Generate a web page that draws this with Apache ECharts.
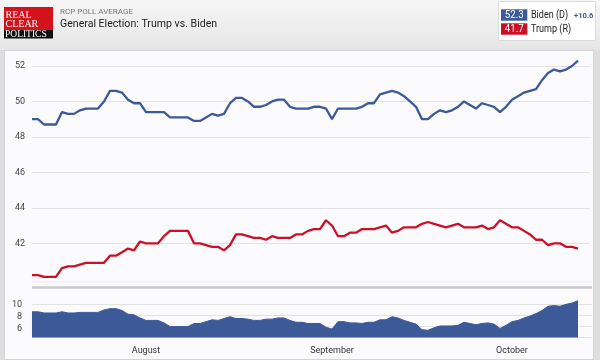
<!DOCTYPE html>
<html>
<head>
<meta charset="utf-8">
<script src="https://cdn.jsdelivr.net/npm/echarts@6/dist/echarts.min.js"></script>
<style>
  html, body { margin:0; padding:0; width:600px; height:360px; background:#dedede; overflow:hidden; }
  #hdr { position:absolute; left:0; top:0; width:600px; height:50px; background:linear-gradient(#f6f6f6,#e6e6e6); }
  #panel { position:absolute; left:4px; top:50px; width:590px; height:310px; background:#fbfbfd; border:1px solid #d4d4d4; box-sizing:border-box; }
  #chart { position:absolute; left:0; top:0; width:600px; height:360px; }
</style>
</head>
<body>
<div id="hdr"></div>
<div id="panel"></div>
<div id="chart"></div>
<script>
// ---- data (daily RCP averages, Jul 13 – Oct 12) ----
const startDay = '2020-07-13';
const dayCount = 94; // two trailing empty days to the right edge
const biden = [
  49.0, 49.0, 48.7, 48.7, 48.7, 49.4, 49.3, 49.3, 49.5, 49.6,
  49.6, 49.6, 50.0, 50.6, 50.6, 50.5, 50.1, 49.9, 49.9, 49.4,
  49.4, 49.4, 49.4, 49.1, 49.1, 49.1, 49.1, 48.9, 48.9, 49.1,
  49.3, 49.2, 49.3, 49.9, 50.2, 50.2, 50.0, 49.7, 49.7, 49.8,
  50.0, 50.1, 50.1, 49.7, 49.6, 49.6, 49.6, 49.7, 49.7, 49.6,
  49.0, 49.6, 49.6, 49.6, 49.6, 49.7, 49.9, 49.9, 50.4, 50.5,
  50.6, 50.5, 50.3, 50.0, 49.7, 49.0, 49.0, 49.3, 49.5, 49.4,
  49.5, 49.7, 50.0, 49.8, 49.6, 49.9, 49.8, 49.7, 49.4, 49.7,
  50.1, 50.3, 50.5, 50.6, 50.7, 51.2, 51.6, 51.8, 51.7, 51.8,
  52.0, 52.3
];
const trump = [
  40.2, 40.2, 40.1, 40.1, 40.1, 40.6, 40.7, 40.7, 40.8, 40.9,
  40.9, 40.9, 40.9, 41.3, 41.3, 41.5, 41.7, 41.6, 42.1, 42.0,
  42.0, 42.0, 42.4, 42.7, 42.7, 42.7, 42.7, 42.0, 42.0, 41.9,
  41.8, 41.8, 41.6, 41.9, 42.5, 42.5, 42.4, 42.3, 42.3, 42.2,
  42.4, 42.3, 42.3, 42.3, 42.5, 42.5, 42.7, 42.8, 42.8, 43.3,
  43.0, 42.4, 42.4, 42.6, 42.6, 42.8, 42.8, 42.8, 42.9, 43.0,
  42.6, 42.7, 42.9, 42.9, 42.9, 43.1, 43.2, 43.1, 43.0, 42.9,
  43.0, 43.1, 42.9, 42.9, 42.9, 43.0, 42.8, 42.9, 43.3, 43.1,
  42.9, 42.9, 42.7, 42.5, 42.2, 42.2, 41.9, 42.0, 42.0, 41.8,
  41.8, 41.7
];
const mainTicks = [42, 44, 46, 48, 50, 52];
const spreadTicks = [6, 8, 10];
const monthTickLabels = { '2020-08-01': 'August', '2020-09-01': 'September', '2020-10-01': 'October' };
const legendItems = [
  { name: 'Biden (D)', value: '52.3', color: '#3b5a99', extra: '+10.6' },
  { name: 'Trump (R)', value: '41.7', color: '#cc0f25', extra: '' }
];

// spread = Biden minus Trump
const spread = biden.map((b, i) => Math.round((b - trump[i]) * 10) / 10);

const categories = [];
const t0 = Date.parse(startDay + 'T00:00:00Z');
for (let i = 0; i < dayCount; i++) {
  categories.push(new Date(t0 + i * 86400000).toISOString().slice(0, 10));
}

const BLUE = '#3c5a98', RED = '#cc1028';
const labelFont = 'Roboto, "DejaVu Sans", sans-serif';

const chart = echarts.init(document.getElementById('chart'), null, { renderer: 'canvas' });

function txt(text, x, y, font, fill, opts) {
  opts = opts || {};
  return {
    type: 'text', z: opts.z || 12, x: x, y: y, scaleX: opts.sx || 1, scaleY: 1,
    style: { text: text, x: 0, y: 0, fill: fill, font: font,
      textAlign: opts.align || 'left', align: opts.align || 'left',
      textVerticalAlign: 'middle', verticalAlign: 'middle' }
  };
}

const graphic = [
  // logo
  { type: 'rect', shape: { x: 4, y: 7, width: 49, height: 23 }, style: { fill: '#d3121b' }, z: 10 },
  { type: 'rect', shape: { x: 4, y: 30, width: 49, height: 8.5 }, style: { fill: '#111111' }, z: 10 },
  txt('REAL', 5.5, 15.5, '10px "Liberation Serif", "DejaVu Serif", serif', '#ffffff'),
  txt('CLEAR', 5.5, 24, '10px "Liberation Serif", "DejaVu Serif", serif', '#ffffff'),
  txt('POLITICS', 5, 34.5, '9.5px "Liberation Serif", "DejaVu Serif", serif', '#ffffff'),
  // titles
  txt('RCP POLL AVERAGE', 60, 11.5, '8px Roboto, sans-serif', '#777777'),
  txt('General Election: Trump vs. Biden', 60, 24.5, '11.5px Roboto, sans-serif', '#222222', { sx: 0.92 }),
  // legend box
  { type: 'rect', z: 10, shape: { x: 498.5, y: 1.5, width: 97, height: 39 }, style: { fill: '#ffffff', stroke: '#dcdcdc', lineWidth: 1 } },
  // separators
  { type: 'line', z: 5, shape: { x1: 32, y1: 282, x2: 592, y2: 282 }, style: { stroke: '#ececec', lineWidth: 1 } },
  { type: 'line', z: 5, shape: { x1: 32, y1: 287.5, x2: 592, y2: 287.5 }, style: { stroke: '#cbcbcb', lineWidth: 2.5 } }
];
legendItems.forEach((it, k) => {
  const cy = 15 + k * 14;
  graphic.push({ type: 'rect', z: 11, shape: { x: 501, y: cy - 5.7, width: 26.3, height: 11.4 }, style: { fill: it.color } });
  graphic.push(txt(it.value, 514.2, cy, '11px Roboto, sans-serif', '#ffffff', { align: 'center', sx: 0.88 }));
  graphic.push(txt(it.name, 531, cy, '11px Roboto, sans-serif', '#222222', { sx: 0.82 }));
  if (it.extra) {
    graphic.push(txt(it.extra, 574, cy + 0.5, 'bold 8px Roboto, sans-serif', '#3b5a99', { sx: 0.95 }));
  }
});

const option = {
  animation: false,
  backgroundColor: 'transparent',
  graphic: graphic,
  grid: [
    { left: 32, right: 10, top: 30.54, bottom: 45.8 },   // main (38..54)
    { left: 32, right: 10, top: 292, bottom: 18.6 },     // spread (4..12)
    { left: 32, right: 8, top: 293.3, bottom: 22.7 }     // spread grid lines
  ],
  xAxis: [
    { type: 'category', gridIndex: 0, data: categories, boundaryGap: false, show: false },
    { type: 'category', gridIndex: 1, data: categories, boundaryGap: false,
      axisLine: { show: false }, axisTick: { show: false },
      axisLabel: { interval: (idx, val) => !!monthTickLabels[val], formatter: v => monthTickLabels[v] || '',
        color: '#333333', fontSize: 9, fontFamily: labelFont, margin: 5 } },
    { type: 'value', gridIndex: 2, min: 0, max: 1, show: false }
  ],
  yAxis: [
    { type: 'value', gridIndex: 0, min: 38, max: 54, interval: 2,
      axisLine: { show: false }, axisTick: { show: false },
      axisLabel: { formatter: v => mainTicks.includes(v) ? String(v) : '', color: '#444444', fontSize: 9, fontFamily: labelFont, margin: 7 },
      splitLine: { lineStyle: { color: ['transparent', 'transparent', '#e2e2e2', '#e2e2e2', '#e2e2e2', '#e2e2e2', '#e2e2e2', '#e2e2e2', 'transparent'], width: 1 } } },
    { type: 'value', gridIndex: 1, min: 4, max: 12, interval: 2,
      axisLine: { show: false }, axisTick: { show: false },
      axisLabel: { formatter: v => spreadTicks.includes(v) ? String(v) : '', color: '#444444', fontSize: 9, fontFamily: labelFont, margin: 10 },
      splitLine: { show: false } },
    { type: 'value', gridIndex: 2, min: 0, max: 4, interval: 1,
      axisLine: { show: false }, axisTick: { show: false }, axisLabel: { show: false },
      splitLine: { lineStyle: { color: ['#e2e2e2', '#e2e2e2', '#e2e2e2', '#e2e2e2', 'transparent'], width: 1 } } }
  ],
  series: [
    { name: 'Biden (D)', type: 'line', xAxisIndex: 0, yAxisIndex: 0, data: biden, symbol: 'none',
      lineStyle: { color: BLUE, width: 2.3 }, z: 3 },
    { name: 'Trump (R)', type: 'line', xAxisIndex: 0, yAxisIndex: 0, data: trump, symbol: 'none',
      lineStyle: { color: RED, width: 2.3 }, z: 3 },
    { name: 'Spread', type: 'line', xAxisIndex: 1, yAxisIndex: 1, data: spread, symbol: 'none',
      lineStyle: { color: BLUE, width: 1 }, areaStyle: { color: BLUE, opacity: 1, origin: 4.65 }, z: 3 }
  ]
};
chart.setOption(option);
</script>
</body>
</html>
